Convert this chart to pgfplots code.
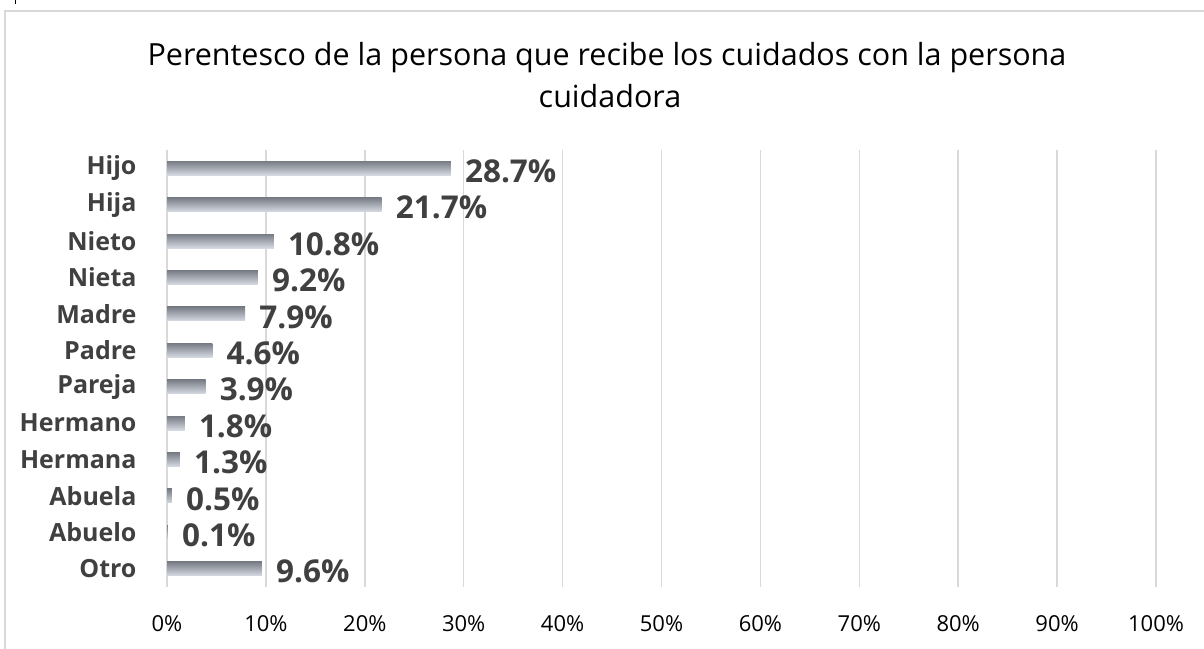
\documentclass[border=0pt]{standalone}
\usepackage{pgfplots}
\pgfplotsset{compat=1.18}
\usepackage{fontspec}
\setmainfont{Open Sans}
\definecolor{gridc}{HTML}{D9D9D9}
\definecolor{lab}{HTML}{404040}
\definecolor{bartop}{HTML}{787C84}
\definecolor{barbot}{HTML}{D5DAE3}
\pgfplotsset{mybar/.style={xbar, bar width=14pt, draw=none, top color=bartop, bottom color=barbot, forget plot,
  point meta=explicit symbolic, nodes near coords,
  every node near coord/.append style={font=\fontsize{31.5}{36}\bfseries\selectfont, text=lab, anchor=west, inner sep=0pt, xshift=14pt, yshift=-3pt}}}
\begin{document}
\begin{tikzpicture}[x=1pt,y=1pt]
\path[use as bounding box] (0,0) rectangle (1204,648);
\draw[gridc, line width=1.5pt] (5,-20) -- (5,637) -- (1230,637);
\draw[black, line width=1pt] (15,648) -- (15,644);
\node[font=\fontsize{30.5}{34}\selectfont, anchor=base] at (607,648-66) {Perentesco de la persona que recibe los cuidados con la persona};
\node[font=\fontsize{30.5}{34}\selectfont, anchor=base] at (610,648-108) {cuidadora};
\begin{axis}[
  at={(167pt,61pt)}, anchor=south west,
  scale only axis, width=989pt, height=437pt,
  xmin=0, xmax=100, ymin=-0.5, ymax=11.5,
  axis line style={draw=none},
  xmajorgrids, grid style={gridc, line width=1.5pt},
  major tick length=0pt,
  xtick={0,10,...,100},
  xticklabels={0\%,10\%,20\%,30\%,40\%,50\%,60\%,70\%,80\%,90\%,100\%},
  ytick={0,...,11},
  yticklabels={Otro,Abuelo,Abuela,Hermana,Hermano,Pareja,Padre,Madre,Nieta,Nieto,Hija,Hijo},
  x tick label style={font=\fontsize{22}{26}\selectfont, text=black, yshift=-25pt},
  y tick label style={font=\fontsize{25}{28}\bfseries\selectfont, text=lab, anchor=east, xshift=-27pt},
  clip=false,
]
\addplot[mybar] coordinates {(28.7,11) [28.7\%]};
\addplot[mybar] coordinates {(21.7,10) [21.7\%]};
\addplot[mybar] coordinates {(10.8,9) [10.8\%]};
\addplot[mybar] coordinates {(9.2,8) [9.2\%]};
\addplot[mybar] coordinates {(7.9,7) [7.9\%]};
\addplot[mybar] coordinates {(4.6,6) [4.6\%]};
\addplot[mybar] coordinates {(3.9,5) [3.9\%]};
\addplot[mybar] coordinates {(1.8,4) [1.8\%]};
\addplot[mybar] coordinates {(1.3,3) [1.3\%]};
\addplot[mybar] coordinates {(0.5,2) [0.5\%]};
\addplot[mybar] coordinates {(0.1,1) [0.1\%]};
\addplot[mybar] coordinates {(9.6,0) [9.6\%]};
\end{axis}
\end{tikzpicture}
\end{document}
